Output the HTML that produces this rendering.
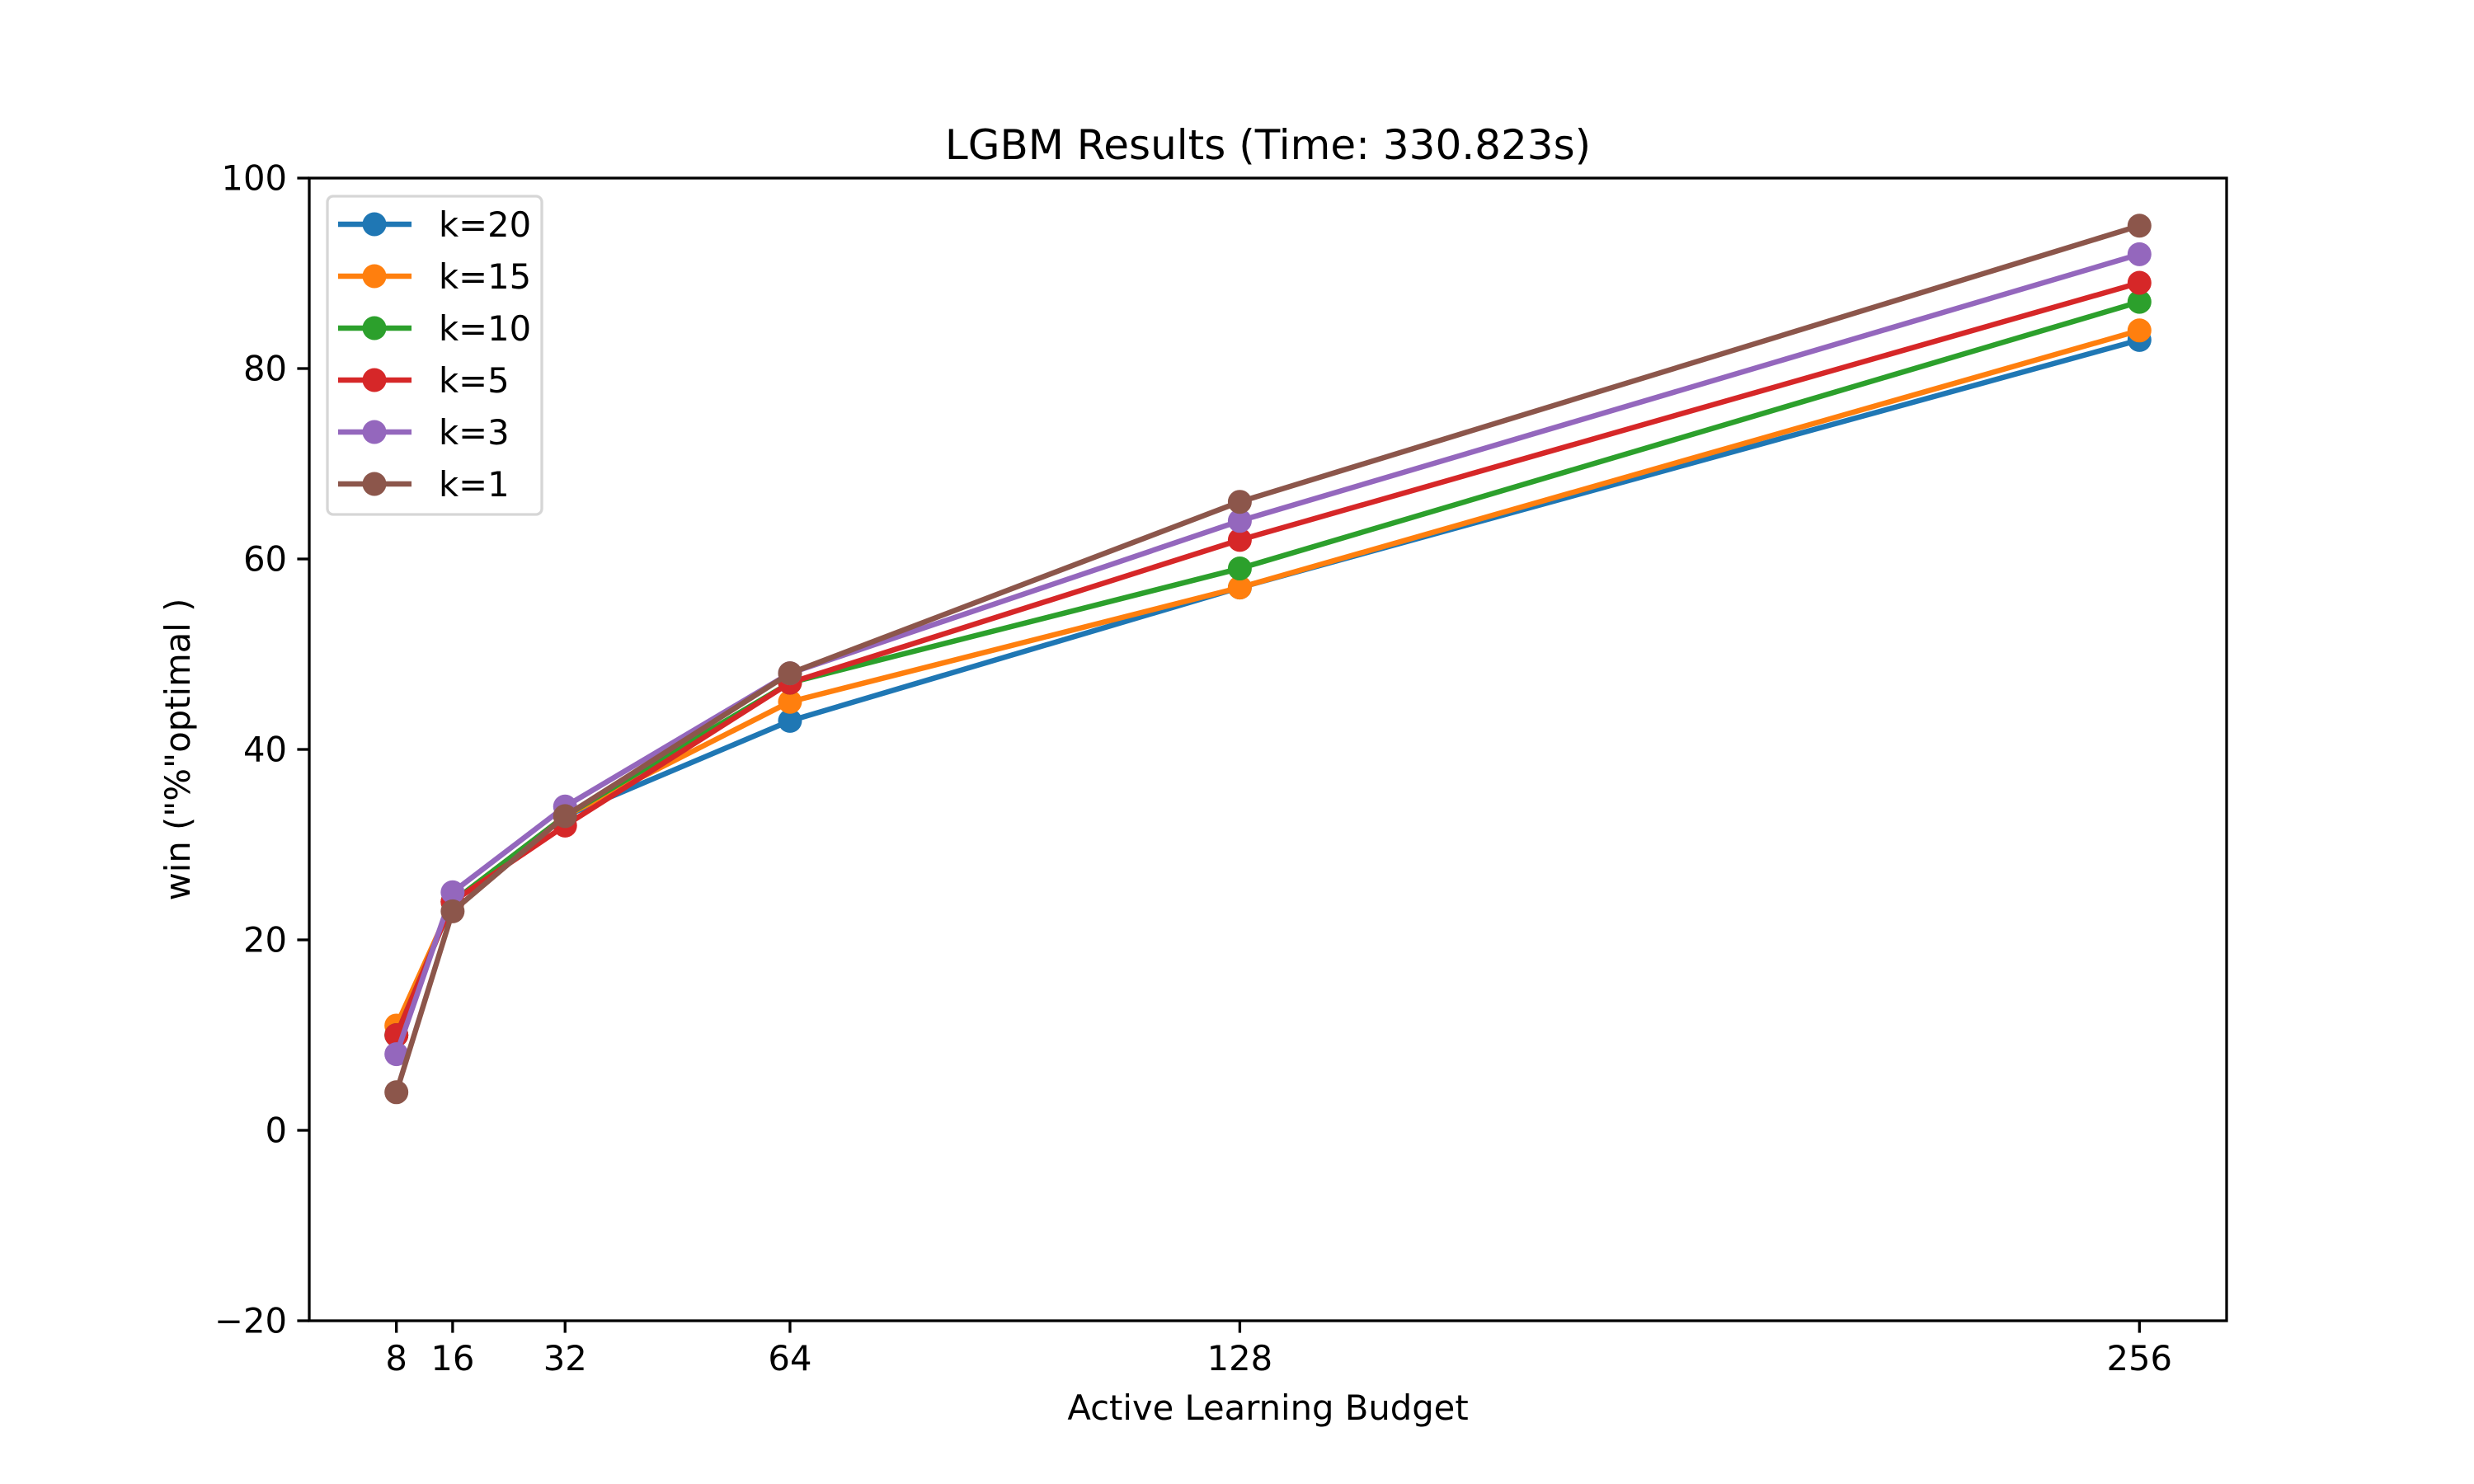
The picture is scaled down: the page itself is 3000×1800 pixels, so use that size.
<!DOCTYPE html>
<html><head><meta charset="utf-8"><style>
html,body{margin:0;padding:0;background:#fff}
svg{display:block;font-family:"DejaVu Sans","Liberation Sans",sans-serif}
</style></head><body>
<svg id="chart" width="3000" height="1800" viewBox="0 0 3000 1800">
<rect width="3000" height="1800" fill="#fff"/>
<g id="plot"></g>
</svg>
<script>
const budgets = [8, 16, 32, 64, 128, 256];
const seriesNames = ["k=20", "k=15", "k=10", "k=5", "k=3", "k=1"];
const k20 = [10, 24, 33, 43, 57, 83];
const k15 = [11, 24, 33, 45, 57, 84];
const k10 = [10, 24, 33, 47, 59, 87];
const k5 = [10, 24, 32, 47, 62, 89];
const k3 = [8, 25, 34, 48, 64, 92];
const k1 = [4, 23, 33, 48, 66, 95];
const colors = ["#1f77b4", "#ff7f0e", "#2ca02c", "#d62728", "#9467bd", "#8c564b"];
const yTicks = [-20, 0, 20, 40, 60, 80, 100];
const xTicks = [8, 16, 32, 64, 128, 256];

const allSeries = [k20, k15, k10, k5, k3, k1];
const L = 375, R = 2700, T = 216, B = 1602;
const xmin = 8 - 0.05 * (256 - 8), xmax = 256 + 0.05 * (256 - 8);
const ymin = -20, ymax = 100;
const xs = v => L + (v - xmin) / (xmax - xmin) * (R - L);
const ys = v => B - (v - ymin) / (ymax - ymin) * (B - T);
const NS = "http://www.w3.org/2000/svg";
const g = document.getElementById("plot");
const MR = 14.5;
function mk(tag, attrs, parent) {
  const e = document.createElementNS(NS, tag);
  for (const k in attrs) e.setAttribute(k, attrs[k]);
  (parent || g).appendChild(e);
  return e;
}
let t = mk("text", {x: (L + R) / 2, y: 193, "font-size": 50, "text-anchor": "middle"});
t.textContent = "LGBM Results (Time: 330.823s)";


allSeries.forEach((vals, i) => {
  const sg = mk("g", {});
  
  
  const pts = vals.map((v, j) => xs(budgets[j]) + "," + ys(v)).join(" ");
  const pl = mk("polyline", {points: pts, fill: "none", stroke: colors[i], "stroke-width": 6.5, "stroke-linejoin": "round", "stroke-linecap": "square"}, sg);
  
  
  vals.forEach((v, j) => {
    const c = mk("circle", {cx: xs(budgets[j]), cy: ys(v), r: MR, fill: colors[i]}, sg);
    
    
  });
});
const fr = mk("rect", {x: L, y: T, width: R - L, height: B - T, fill: "none", stroke: "#000", "stroke-width": 3.3});


yTicks.forEach(v => {
  const y = ys(v);
  mk("line", {x1: L - 14.6, x2: L, y1: y, y2: y, stroke: "#000", "stroke-width": 3.3});
  const tx = mk("text", {x: L - 27, y: y + 14.5, "font-size": 41.7, "text-anchor": "end"});
  tx.textContent = v < 0 ? "\u2212" + Math.abs(v) : String(v);
  
  
});
xTicks.forEach(v => {
  const x = xs(v);
  mk("line", {x1: x, x2: x, y1: B, y2: B + 14.6, stroke: "#000", "stroke-width": 3.3});
  const tx = mk("text", {x: x, y: B + 60, "font-size": 41.7, "text-anchor": "middle"});
  tx.textContent = String(v);
  
  
});
let xl = mk("text", {x: (L + R) / 2, y: 1722, "font-size": 41.7, "text-anchor": "middle"});
xl.textContent = "Active Learning Budget";


let yl = mk("text", {x: 0, y: 0, "font-size": 41.7, "text-anchor": "middle", transform: "translate(230," + (T + B) / 2 + ") rotate(-90)"});
yl.textContent = 'win ("%"optimal )';


const lg = mk("g", {});


mk("rect", {x: 397, y: 238, width: 260, height: 386, rx: 7, fill: "#fff", "fill-opacity": 0.8, stroke: "#d6d6d6", "stroke-width": 3.3}, lg);
seriesNames.forEach((n, i) => {
  const y = 272 + i * 63;
  const e = mk("g", {}, lg);
  
  
  mk("line", {x1: 410, x2: 499, y1: y, y2: y, stroke: colors[i], "stroke-width": 6.5}, e);
  mk("circle", {cx: 454, cy: y, r: MR, fill: colors[i]}, e);
  const tx = mk("text", {x: 532, y: y + 15, "font-size": 41.7}, e);
  tx.textContent = n;
});
</script>
</body></html>
